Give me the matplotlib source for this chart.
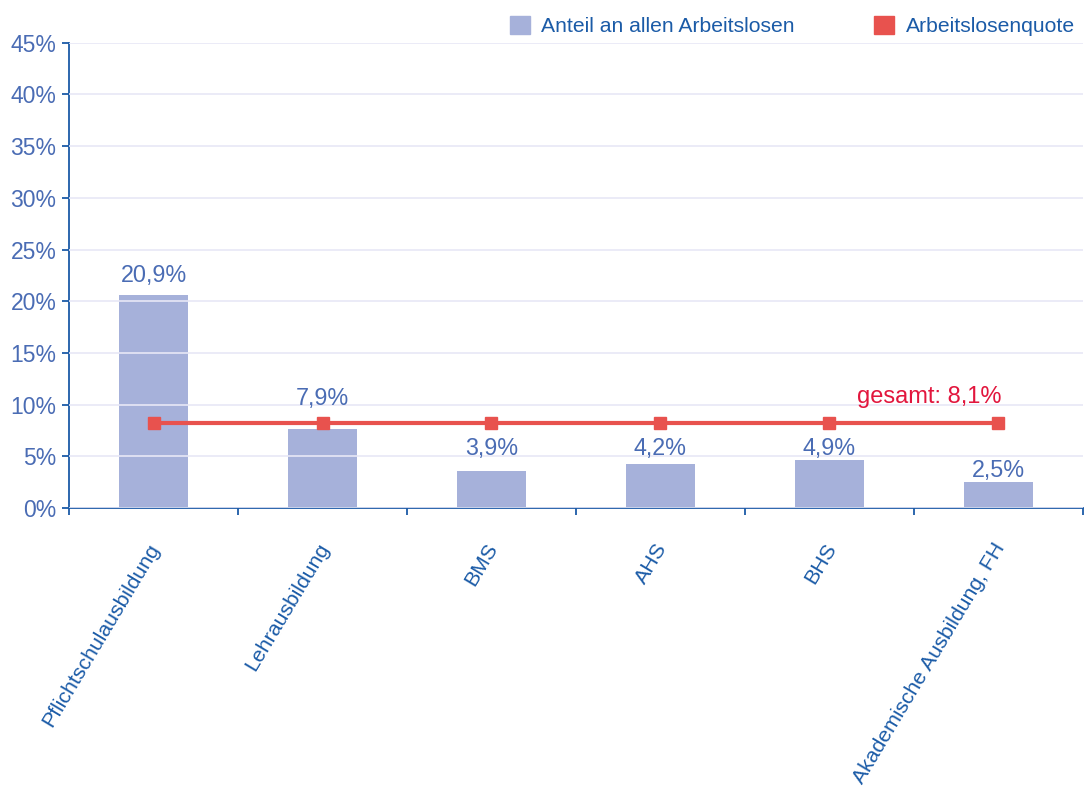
import numpy as np
import matplotlib.pyplot as plt
import matplotlib.transforms as mtransforms
from matplotlib.patches import Patch

plt.rcParams['font.family'] = ['Liberation Sans', 'DejaVu Sans']

# daten
kategorien = ['Pflichtschulausbildung', 'Lehrausbildung', 'BMS', 'AHS', 'BHS',
              'Akademische Ausbildung, FH']
anteil = [20.6, 7.65, 3.6, 4.3, 4.65, 2.55]   # bar heights as drawn
anteil_text = ['20,9%', '7,9%', '3,9%', '4,2%', '4,9%', '2,5%']
quote = [8.25, 8.25, 8.25, 8.25, 8.25, 8.25]
quote_text = 'gesamt: 8,1%'

# label positions (y in %) as in the original
label_y = [21.4, 9.5, 4.6, 4.6, 4.6, 2.5]

hellblau = '#4a6cb4'
dunkelblau = '#1b5ba7'
balken = '#a6b1da'
rot = '#e8524e'

fig = plt.figure(figsize=(10.84, 7.87), dpi=100)
ax = fig.add_axes([0.0637, 0.3545, 0.9353, 0.5912])

x = np.arange(len(kategorien))
ax.bar(x, anteil, width=0.41, color=balken, zorder=1)
ax.plot(x, quote, color=rot, lw=3, marker='s', markersize=8.5, zorder=4)

for xi, yi, t in zip(x, label_y, anteil_text):
    ax.text(xi, yi, t, ha='center', va='bottom', color=hellblau, fontsize=16.8, zorder=5)
ax.text(x[-1] + 0.02, quote[-1] + 1.4, quote_text, ha='right', va='bottom',
        color='#e2163d', fontsize=17, zorder=5)

ax.set_xlim(-0.5, len(kategorien) - 0.5)
ax.set_ylim(0, 45)
ax.set_yticks(np.arange(0, 46, 5))
ax.set_yticklabels([f'{v}%' for v in range(0, 46, 5)])
ax.yaxis.grid(True, color='#e8e8f6', lw=1.2, zorder=2)
ax.set_axisbelow(False)
for l in ax.get_ygridlines():
    l.set_zorder(2)

ax.set_xticks(x)
ax.set_xticklabels(kategorien, rotation=59, ha='right', va='top',
                   rotation_mode='anchor', color=dunkelblau, fontsize=15.3)
ax.set_xticks(np.arange(-0.5, len(kategorien)), minor=True)
ax.tick_params(axis='x', which='major', length=0, pad=23)
ax.tick_params(axis='x', which='minor', length=5, width=1.3, color=dunkelblau, direction='out')
ax.tick_params(axis='y', length=5, width=1.3, color=dunkelblau, labelcolor=hellblau,
               labelsize=16.5, pad=4)

# labels etwas nach links
shift = mtransforms.ScaledTranslation(-6 / 100, 0, fig.dpi_scale_trans)
for lab in ax.get_xticklabels():
    lab.set_transform(lab.get_transform() + shift)

for s in ['top', 'right']:
    ax.spines[s].set_visible(False)
for s in ['left', 'bottom']:
    ax.spines[s].set_color(dunkelblau)
    ax.spines[s].set_linewidth(1.3)

handles = [Patch(color=balken, label='Anteil an allen Arbeitslosen'),
           Patch(color=rot, label='Arbeitslosenquote')]
leg = fig.legend(handles=handles, loc='upper right', bbox_to_anchor=(1.006, 1.0),
                 ncol=2, frameon=False, fontsize=15.2, handlelength=0.95,
                 handleheight=0.95, handletextpad=0.55, columnspacing=3.75,
                 borderaxespad=0.35)
for t in leg.get_texts():
    t.set_color(dunkelblau)

fig.savefig('out.png', dpi=100)
